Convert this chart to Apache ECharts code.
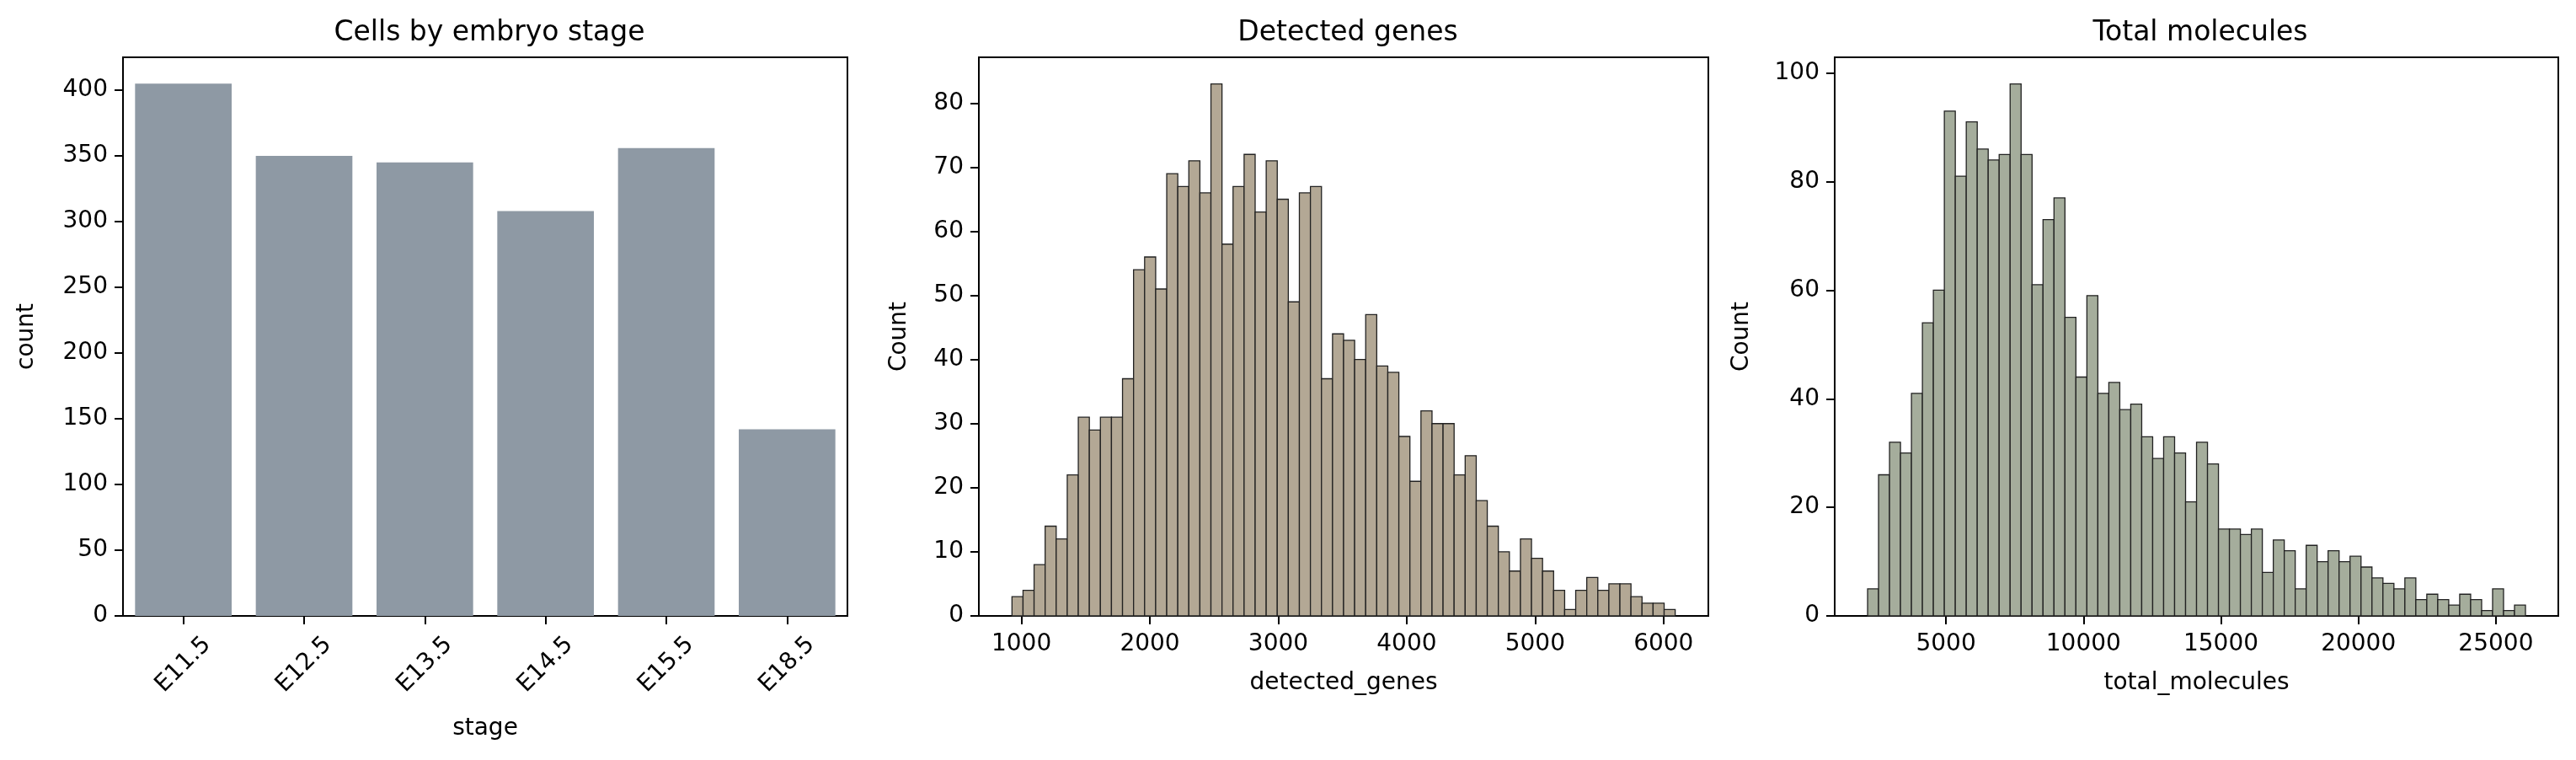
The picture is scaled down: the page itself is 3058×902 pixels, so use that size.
<!DOCTYPE html>
<html><head><meta charset="utf-8">
<script src="https://cdn.jsdelivr.net/npm/echarts@6/dist/echarts.min.js"></script>
<style>html,body{margin:0;padding:0;background:#fff}#c{width:3058px;height:902px}</style>
</head><body><div id="c"></div>
<script>
const stages = ['E11.5','E12.5','E13.5','E14.5','E15.5','E18.5'];
const stageCounts = [405, 350, 345, 308, 356, 142];

const genesMin = 926, genesBinWidth = 86.08;
const genesCounts = [3,4,8,14,12,22,31,29,31,31, 37,54,56,51,69,67,71,66,83,58,
  67,72,63,71,65,49,66,67,37,44, 43,40,47,39,38,28,21,32,30,30,
  22,25,18,14,10,7,12,9,7,4, 1,4,6,4,5,5,3,2,2,1];
const genesTicks = [1000,2000,3000,4000,5000,6000];

const molMin = 2148, molBinWidth = 398.8;
const molCounts = [5,26,32,30,41,54,60,93,81,91, 86,84,85,98,85,61,73,77,55,44,
  59,41,43,38,39,33,29,33,30,21, 32,28,16,16,15,16,8,14,12,5,
  13,10,12,10,11,9,7,6,5,7, 3,4,3,2,4,3,1,5,1,2];
const molTicks = [5000,10000,15000,20000,25000];

const F = 'DejaVu Sans';
const FS = 28;
function bins(min, w, counts){ return counts.map((c,i)=>[min+i*w, min+(i+1)*w, c]); }
const chart = echarts.init(document.getElementById('c'));
const grids = [
  {left:146, top:68, width:860, height:663},
  {left:1162, top:68, width:866, height:663},
  {left:2178, top:68, width:859, height:663}
];
const lbl = {color:'#000', fontFamily:F, fontSize:FS, margin:20};
const axisCommon = {
  axisLine:{show:true, onZero:false, lineStyle:{color:'#000', width:2}},
  axisTick:{show:true, length:10, lineStyle:{color:'#000', width:2}},
  axisLabel:lbl,
  splitLine:{show:false},
  nameTextStyle:{color:'#000', fontFamily:F, fontSize:FS}
};
function histItem(color){
  return function(params, api){
    const a = api.coord([api.value(0), api.value(2)]);
    const b = api.coord([api.value(1), 0]);
    return {type:'rect', shape:{x:a[0], y:a[1], width:b[0]-a[0], height:b[1]-a[1]},
      style:{fill:color, stroke:'#222', lineWidth:1.3}};
  };
}
const ts = {fontFamily:F, fontSize:33, fontWeight:'normal', color:'#000'};
chart.setOption({
  animation:false,
  title:[
    {text:'Cells by embryo stage', left:576, top:18, textAlign:'center', textStyle:ts},
    {text:'Detected genes', left:1595, top:18, textAlign:'center', textStyle:ts},
    {text:'Total molecules', left:2607, top:18, textAlign:'center', textStyle:ts}
  ],
  grid: grids.map(g=>Object.assign({show:true, borderColor:'#000', borderWidth:2, backgroundColor:'transparent'}, g)),
  xAxis:[
    Object.assign({}, axisCommon, {gridIndex:0, type:'category', data:stages, name:'stage', nameLocation:'middle', nameGap:120,
      axisTick:{show:true, length:10, alignWithLabel:true, lineStyle:{color:'#000', width:2}},
      axisLabel:{color:'#000', fontFamily:F, fontSize:FS, rotate:45, margin:58, align:'center', verticalAlign:'middle'}}),
    Object.assign({}, axisCommon, {gridIndex:1, type:'value', min:668, max:6349, name:'detected_genes', nameLocation:'middle', nameGap:66,
      axisTick:{show:true, length:10, lineStyle:{color:'#000', width:2}, customValues:genesTicks},
      axisLabel:Object.assign({}, lbl, {customValues:genesTicks, formatter:v=>String(v)})}),
    Object.assign({}, axisCommon, {gridIndex:2, type:'value', min:952, max:27270, name:'total_molecules', nameLocation:'middle', nameGap:66,
      axisTick:{show:true, length:10, lineStyle:{color:'#000', width:2}, customValues:molTicks},
      axisLabel:Object.assign({}, lbl, {customValues:molTicks, formatter:v=>String(v)})})
  ],
  yAxis:[
    Object.assign({}, axisCommon, {gridIndex:0, type:'value', min:0, max:425, interval:50, name:'count', nameLocation:'middle', nameGap:100,
      axisLabel:Object.assign({}, lbl, {margin:18, showMaxLabel:false})}),
    Object.assign({}, axisCommon, {gridIndex:1, type:'value', min:0, max:87.15, interval:10, name:'Count', nameLocation:'middle', nameGap:80,
      axisLabel:Object.assign({}, lbl, {margin:18, showMaxLabel:false})}),
    Object.assign({}, axisCommon, {gridIndex:2, type:'value', min:0, max:102.9, interval:20, name:'Count', nameLocation:'middle', nameGap:96,
      axisLabel:Object.assign({}, lbl, {margin:18, showMaxLabel:false})})
  ],
  series:[
    {type:'bar', xAxisIndex:0, yAxisIndex:0, data:stageCounts, barCategoryGap:'20%', itemStyle:{color:'#8e99a4'}},
    {type:'custom', xAxisIndex:1, yAxisIndex:1, data:bins(genesMin, genesBinWidth, genesCounts), renderItem:histItem('#b3a895'), encode:{x:[0,1], y:2}},
    {type:'custom', xAxisIndex:2, yAxisIndex:2, data:bins(molMin, molBinWidth, molCounts), renderItem:histItem('#a5ad9c'), encode:{x:[0,1], y:2}}
  ]
});
</script></body></html>
